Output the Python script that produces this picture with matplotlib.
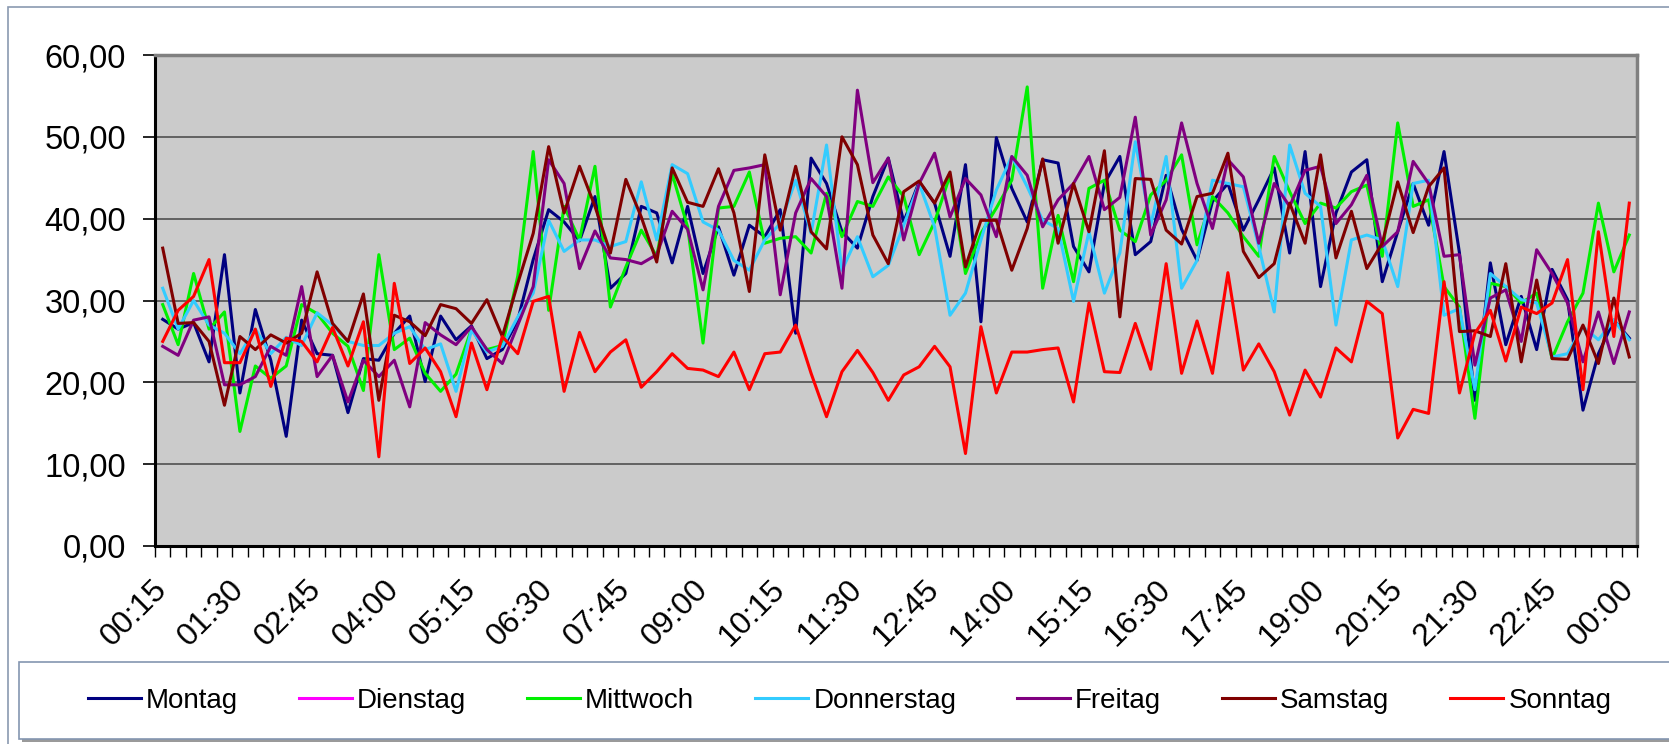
import matplotlib
matplotlib.use('Agg')
import matplotlib.pyplot as plt
from matplotlib.patches import Rectangle
import numpy as np

plt.rcParams['font.family'] = ['Liberation Sans', 'DejaVu Sans']

# Kategorien: Viertelstunden von 00:15 bis 00:00
times = ['%02d:%02d' % (((m // 60) % 24), m % 60) for m in range(15, 24 * 60 + 15, 15)]
tick_labels = ['00:15', '01:30', '02:45', '04:00', '05:15', '06:30', '07:45',
               '09:00', '10:15', '11:30', '12:45', '14:00', '15:15', '16:30',
               '17:45', '19:00', '20:15', '21:30', '22:45', '00:00']

montag = [27.7, 26.5, 27.3, 22.5, 35.6, 18.7, 28.9, 22.7, 13.4, 27.6, 23.5, 23.3, 16.3, 22.9, 22.7, 26.0,
          28.1, 20.1, 28.1, 25.2, 26.9, 22.9, 24.0, 27.6, 35.0, 41.1, 39.6, 37.3, 42.7, 31.5, 33.3, 41.5,
          40.7, 34.6, 41.5, 33.3, 39.0, 33.1, 39.2, 37.8, 41.1, 26.0, 47.4, 44.3, 38.4, 36.4, 42.7, 47.4,
          39.6, 44.5, 41.9, 35.4, 46.6, 27.4, 49.9, 43.7, 39.6, 47.2, 46.8, 36.6, 33.5, 44.3, 47.6, 35.6,
          37.2, 45.3, 38.7, 34.9, 42.1, 44.3, 38.6, 42.3, 46.2, 35.8, 48.2, 31.7, 40.7, 45.7, 47.2, 32.3,
          38.4, 44.3, 39.2, 48.2, 35.8, 17.8, 34.6, 24.6, 30.5, 24.0, 33.8, 30.1, 16.6, 23.5, 27.6, 25.4]

dienstag = []  # keine Werte, nur in der Legende

mittwoch = [29.5, 24.6, 33.3, 26.5, 28.6, 14.0, 22.0, 20.5, 22.0, 29.5, 28.4, 26.0, 24.4, 19.0, 35.6, 24.0,
            25.4, 21.1, 18.9, 21.0, 26.5, 24.0, 24.5, 33.0, 48.2, 28.8, 41.5, 37.4, 46.4, 29.2, 34.1, 38.6,
            35.4, 45.5, 39.0, 24.8, 41.3, 41.5, 45.7, 37.0, 37.6, 37.8, 35.8, 43.1, 37.8, 42.1, 41.5, 45.1,
            42.7, 35.6, 39.6, 45.3, 33.3, 38.2, 41.3, 44.7, 56.1, 31.5, 40.4, 32.3, 43.7, 44.7, 38.6, 37.2,
            42.9, 44.7, 47.8, 36.8, 42.7, 40.7, 37.8, 35.4, 47.6, 43.3, 39.4, 41.9, 41.3, 43.3, 44.1, 35.4,
            51.7, 41.5, 42.3, 31.7, 29.2, 15.6, 32.1, 31.7, 29.7, 30.9, 22.9, 27.4, 30.9, 41.9, 33.5, 38.0]

donnerstag = [31.5, 26.5, 30.0, 27.0, 26.0, 23.5, 26.5, 23.5, 25.5, 24.5, 28.5, 27.0, 25.0, 24.5, 24.5, 26.0,
              26.8, 24.0, 24.7, 18.9, 26.4, 23.7, 24.4, 28.0, 30.9, 39.8, 36.0, 37.4, 37.4, 36.6, 37.2, 44.5,
              37.4, 46.6, 45.5, 39.6, 38.6, 34.9, 33.7, 37.4, 39.4, 44.7, 38.2, 49.0, 33.7, 37.8, 32.9, 34.3,
              39.2, 44.3, 39.0, 28.2, 30.9, 37.4, 43.5, 47.6, 43.9, 39.8, 38.8, 29.9, 38.4, 30.9, 35.8, 49.4,
              39.2, 47.6, 31.5, 34.9, 44.7, 44.3, 43.9, 36.6, 28.6, 49.0, 43.1, 41.5, 27.0, 37.4, 38.0, 37.4,
              31.7, 44.3, 44.7, 28.2, 29.0, 19.1, 33.3, 31.7, 30.1, 29.7, 23.1, 23.5, 26.8, 25.2, 27.6, 25.2]

freitag = [24.4, 23.3, 27.6, 28.0, 19.7, 19.7, 20.7, 24.4, 23.3, 31.7, 20.7, 23.3, 17.6, 22.7, 20.7, 22.7,
           17.0, 27.3, 25.8, 24.6, 26.8, 24.0, 22.3, 27.0, 31.7, 47.2, 44.3, 33.9, 38.5, 35.2, 35.0, 34.5,
           35.6, 40.9, 38.7, 31.3, 41.5, 45.9, 46.2, 46.6, 30.7, 40.7, 44.9, 42.7, 31.5, 55.7, 44.4, 47.4,
           37.4, 44.3, 48.0, 40.2, 44.9, 42.9, 37.8, 47.6, 45.3, 39.0, 42.3, 44.3, 47.6, 41.1, 42.6, 52.4,
           38.0, 42.3, 51.7, 44.3, 38.8, 47.2, 45.1, 37.0, 44.3, 41.5, 45.9, 46.4, 39.4, 41.7, 45.3, 36.6,
           38.4, 47.0, 44.3, 35.4, 35.6, 22.1, 30.3, 31.3, 25.0, 36.2, 33.3, 29.7, 22.5, 28.6, 22.3, 28.6]

samstag = [36.4, 27.2, 27.3, 25.0, 17.2, 25.6, 24.0, 25.8, 24.8, 26.0, 33.5, 27.2, 25.0, 30.8, 17.8, 28.2,
           27.4, 25.7, 29.5, 29.0, 27.2, 30.1, 25.6, 32.1, 38.2, 48.8, 40.7, 46.4, 41.5, 35.8, 44.8, 40.2,
           34.7, 46.2, 42.0, 41.5, 46.1, 40.7, 31.1, 47.8, 38.6, 46.4, 38.4, 36.3, 50.0, 46.6, 38.0, 34.5,
           43.3, 44.6, 41.9, 45.7, 34.1, 39.8, 39.8, 33.7, 38.8, 47.3, 37.0, 44.3, 38.4, 48.3, 28.0, 44.9,
           44.8, 38.6, 36.9, 42.7, 43.1, 48.0, 36.0, 32.8, 34.5, 41.9, 37.0, 47.8, 35.2, 40.9, 33.9, 37.0,
           44.5, 38.3, 43.9, 46.2, 26.2, 26.3, 25.6, 34.5, 22.5, 32.5, 22.9, 22.8, 27.0, 22.3, 30.3, 23.1]

sonntag = [25.0, 28.8, 30.5, 35.0, 22.4, 22.4, 26.5, 19.5, 25.4, 25.0, 22.5, 26.7, 22.0, 27.4, 10.9, 32.1,
           22.3, 24.2, 21.3, 15.8, 24.8, 19.1, 25.6, 23.5, 29.9, 30.5, 18.9, 26.1, 21.3, 23.7, 25.2, 19.4,
           21.3, 23.5, 21.7, 21.5, 20.7, 23.7, 19.1, 23.5, 23.7, 27.0, 21.1, 15.8, 21.3, 23.9, 21.2, 17.8,
           20.9, 21.9, 24.4, 21.9, 11.3, 26.8, 18.7, 23.7, 23.7, 24.0, 24.2, 17.6, 29.7, 21.3, 21.2, 27.2,
           21.6, 34.5, 21.1, 27.5, 21.1, 33.4, 21.5, 24.7, 21.3, 16.0, 21.5, 18.2, 24.2, 22.5, 29.9, 28.4,
           13.2, 16.7, 16.2, 32.3, 18.7, 26.0, 28.8, 22.6, 29.2, 28.4, 29.7, 35.0, 19.1, 38.4, 25.6, 41.9]

series = [
    ('Montag', montag, '#000080'),
    ('Dienstag', dienstag, '#ff00ff'),
    ('Mittwoch', mittwoch, '#00f000'),
    ('Donnerstag', donnerstag, '#33ccff'),
    ('Freitag', freitag, '#800080'),
    ('Samstag', samstag, '#800000'),
    ('Sonntag', sonntag, '#ff0000'),
]

W, H = 1669, 744
fig = plt.figure(figsize=(W / 100, H / 100), dpi=100)
fig.patch.set_facecolor('white')

# äußerer Rahmen des Diagramms
fig.add_artist(Rectangle((8 / W, -0.1), 1.2, 1 - 7 / H + 0.1, transform=fig.transFigure,
                         facecolor='none', edgecolor='#8a9ab0', lw=1.2))

ax = fig.add_axes([155 / W, 1 - 546 / H, (1637 - 155) / W, (546 - 55) / H])
ax.set_facecolor('#cbcbcb')

x = np.arange(len(times))
handles = []
for name, vals, col in series:
    if len(vals):
        ln, = ax.plot(x[:len(vals)], vals, color=col, lw=2.2, label=name, zorder=3)
    else:
        ln, = ax.plot([], [], color=col, lw=2.2, label=name)
    handles.append(ln)

ax.set_xlim(-0.5, len(times) - 0.5)
ax.set_ylim(0, 60)

yt = np.arange(0, 61, 10)
ax.set_yticks(yt)
ax.set_yticklabels([f'{v:.2f}'.replace('.', ',') for v in yt], fontsize=23.5)
ax.yaxis.grid(True, color='#505050', lw=1.2, zorder=1)
ax.set_axisbelow(True)
ax.tick_params(axis='y', direction='out', length=9, width=1.2, pad=12)

ax.set_xticks([times.index(t) if t != '00:00' else len(times) - 1 for t in tick_labels])
ax.set_xticklabels(tick_labels, fontsize=23, rotation=45, ha='right', va='center',
                   rotation_mode='anchor')
ax.tick_params(axis='x', which='major', length=0, pad=28)
ax.set_xticks(np.arange(-0.5, len(times), 1), minor=True)
ax.tick_params(axis='x', which='minor', direction='out', length=8, width=1.0)

for s in ['left', 'bottom']:
    ax.spines[s].set_color('black')
    ax.spines[s].set_linewidth(2.2)
for s in ['top', 'right']:
    ax.spines[s].set_color('#808080')
    ax.spines[s].set_linewidth(2.5)

# Legendenkasten mit Schatten
fig.add_artist(Rectangle((22 / W, 1 - 742 / H), 1.2, (739 - 662) / H, transform=fig.transFigure,
                         facecolor='#9a9a9a', edgecolor='none'))
fig.add_artist(Rectangle((19 / W, 1 - 739 / H), 1.2, (739 - 662) / H, transform=fig.transFigure,
                         facecolor='white', edgecolor='#8496b0', lw=1.2))

fig.legend(handles, [h.get_label() for h in handles], loc='center',
           bbox_to_anchor=(0.509, 1 - 701 / H), ncol=7, frameon=False,
           handlelength=1.9, handletextpad=0.2, columnspacing=2.18, fontsize=20)

fig.savefig('out.png', dpi=100)
